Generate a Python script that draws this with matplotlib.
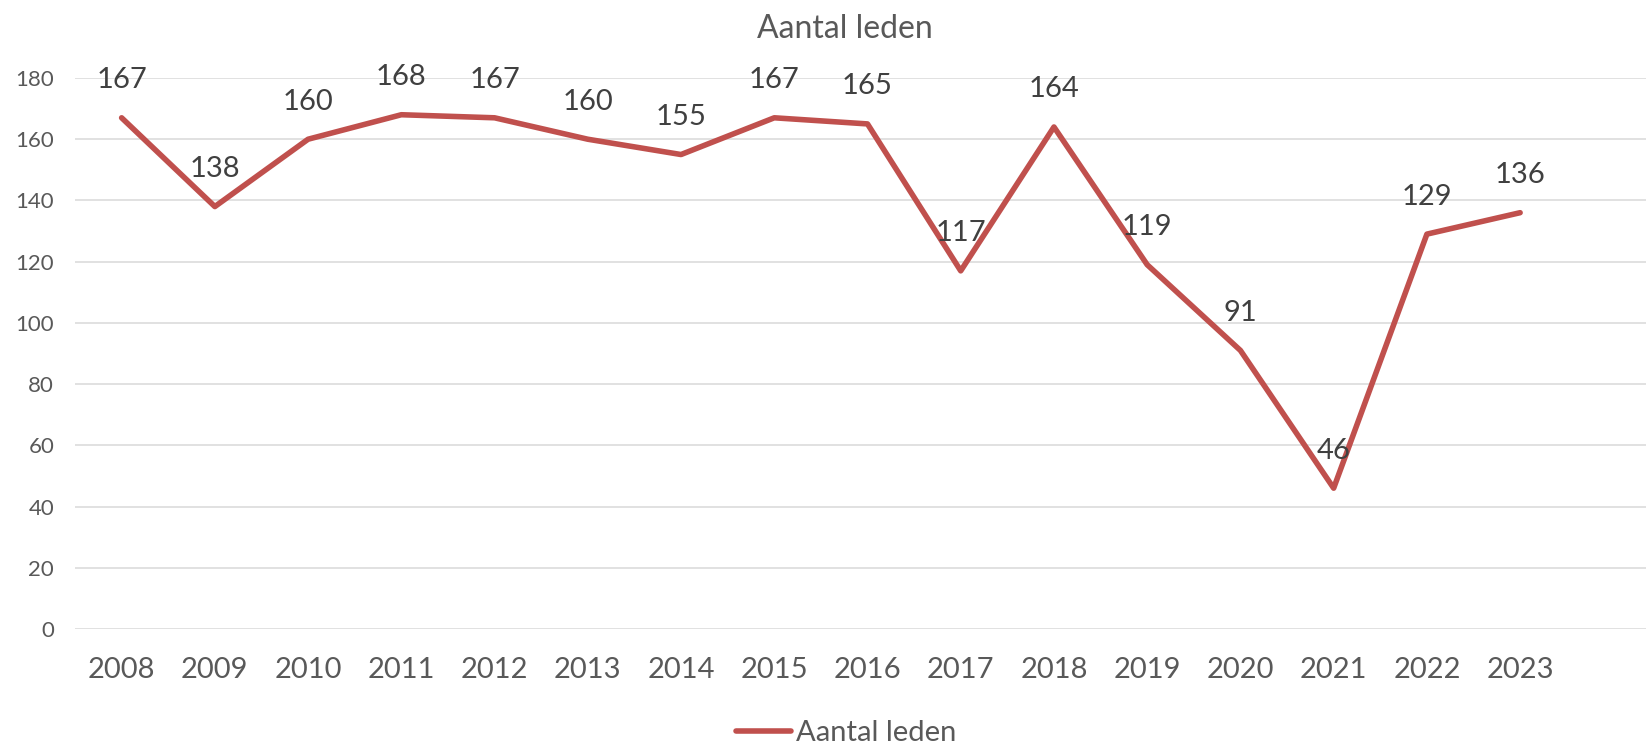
import matplotlib.pyplot as plt

years = ['2008', '2009', '2010', '2011', '2012', '2013', '2014', '2015',
         '2016', '2017', '2018', '2019', '2020', '2021', '2022', '2023']
leden = [167, 138, 160, 168, 167, 160, 155, 167, 165, 117, 164, 119, 91, 46, 129, 136]

plt.rcParams['font.family'] = ['Lato', 'DejaVu Sans']

fig = plt.figure(figsize=(16.46, 7.46), dpi=100)
ax = fig.add_axes([75 / 1646, 117 / 746, 1 - 75 / 1646, 551 / 746])

x = list(range(len(years)))
ax.plot(x, leden, color='#C0504D', linewidth=4.0, solid_joinstyle='round',
        solid_capstyle='round', label='Aantal leden', zorder=3)

for xi, v in zip(x, leden):
    ax.annotate(str(v), (xi, v), xytext=(0, 27), textcoords='offset points',
                ha='center', va='center', fontsize=21, color='#404040', zorder=4)

ax.set_ylim(0, 180)
ax.set_xlim(-0.5, 16.35)
ax.set_yticks(range(0, 181, 20))
ax.set_xticks(x)
ax.set_xticklabels(years)
ax.tick_params(axis='y', length=0, labelsize=16, labelcolor='#595959', pad=15)
ax.tick_params(axis='x', length=0, labelsize=21, labelcolor='#595959', pad=20)
ax.grid(axis='y', color='#D9D9D9', linewidth=1.1)
ax.set_axisbelow(True)
for s in ax.spines.values():
    s.set_visible(False)

fig.text(845 / 1646, 1 - 29 / 746, 'Aantal leden', ha='center', va='center',
         fontsize=23, color='#595959')

leg = fig.legend(loc='center', bbox_to_anchor=(846 / 1646, 1 - 733 / 746),
                 frameon=False, fontsize=21, handlelength=1.9, handletextpad=0.15)
for t in leg.get_texts():
    t.set_color('#595959')

fig.savefig('out.png', dpi=100)
